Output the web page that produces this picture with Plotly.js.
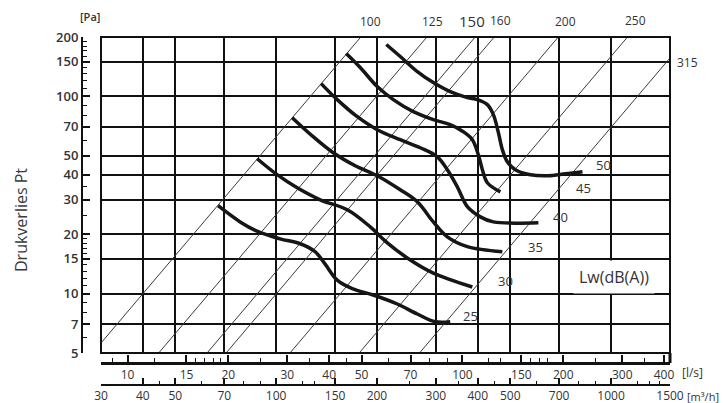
<!DOCTYPE html>
<html><head><meta charset="utf-8">
<script src="https://cdn.plot.ly/plotly-3.0.1.min.js"></script>
<style>html,body{margin:0;padding:0;background:#fff}#chart{width:723px;height:403px}</style>
</head><body><div id="chart"></div>
<script>
// ---- data ----
const ductDiameters   = [100, 125, 150, 160, 200, 250, 315];
const ductFlowAt5Pa   = [28.3, 44.6, 62.2, 70.9, 110, 177, 268];     // m3/h at 5 Pa
const ductFlowAt200Pa = [179, 282, 393, 448, 696, 1120, 1695];       // m3/h at 200 Pa
const ductPressures   = [5, 200];

const lwLevels = [25, 30, 35, 40, 45, 50];
const lw25Flow = [67.1, 78.1, 88.4, 102.8, 118, 130.8, 140.1, 152.2, 168.8, 195, 230, 264, 298.8, 331];
const lw25Pa   = [27.9, 23.1, 20.6, 18.95, 17.9, 16.3, 14.1, 11.7, 10.6, 9.84, 8.86, 7.88, 7.2, 7.2];
const lw30Flow = [87.8, 100.7, 115.6, 135.4, 163.1, 191, 214.8, 251.6, 294.7, 385.4];
const lw30Pa   = [48.3, 40.1, 34.4, 29.9, 26.6, 21.8, 18.1, 14.8, 12.7, 10.8];
const lw35Flow = [111.7, 129, 148.1, 172.3, 200.4, 234.8, 264, 294.7, 324.5, 372.4, 473.7];
const lw35Pa   = [78.0, 62.5, 51.8, 44.5, 39.6, 33.6, 29.2, 23.1, 19.4, 17.3, 16.3];
const lw40Flow = [136.3, 152.2, 174.7, 200.4, 234.8, 269.5, 302.9, 324.5, 347.6, 372.4, 407.2, 445.3, 606.9];
const lw40Pa   = [116.1, 96.3, 78.9, 67.8, 60.3, 54.9, 49.4, 42.5, 34.8, 27.6, 24.5, 23.1, 22.9];
const lw45Flow = [161.9, 178.3, 200.4, 223.8, 256.8, 294.7, 331, 362.2, 385.4, 401.6, 412.9, 427.3, 467.3];
const lw45Pa   = [164.9, 140, 112.1, 96.3, 83.7, 76.2, 71.9, 66.2, 60.3, 50.6, 42.5, 36.5, 32.8];
const lw50Flow = [213.3, 234.8, 264, 294.7, 331, 372.4, 398.8, 427.3, 445.3, 461, 473.7, 490.2, 518, 574.3, 645.7, 730.9, 821.7];
const lw50Pa   = [183.2, 159.2, 133.6, 117.5, 105.7, 98.6, 96.3, 90.8, 80.8, 65.5, 53.7, 46.6, 42.5, 40.1, 39.6, 40.5, 41.5];

const paTicks      = [5, 7, 10, 15, 20, 30, 40, 50, 70, 100, 150, 200];
const paMinorTicks = [6, 8, 9, 11, 12, 13, 14, 16, 17, 18, 19, 25, 35, 60, 80, 90, 110, 120, 130, 140, 160, 170, 180, 190];
const m3hTicks      = [30, 40, 50, 70, 100, 150, 200, 300, 400, 500, 700, 1000, 1500];
const m3hMinorTicks = [45, 60, 80, 90, 120, 130, 250, 350, 450, 600, 800, 900, 1200, 1300, 1400];
const lsTicks      = [10, 15, 20, 30, 40, 50, 70, 100, 150, 200, 300, 400];
const lsMinorTicks = [9, 12, 16, 17, 18, 19, 25, 35, 45, 60, 80, 90, 120, 130, 160, 170, 180, 250, 350];

// ---- layout geometry ----
const W = 723, H = 403, M = {l: 40, r: 53, t: 37, b: 10};
const PW = W - M.l - M.r, PH = H - M.t - M.b;
const px = x => (x - M.l) / PW;
const py = y => (H - M.b - y) / PH;
const xDom = [px(101), 1];
const yDom = [py(353), 1];
const FONT = '"Open Sans", "Noto Sans", sans-serif';
const TXT = '#333';

const traces = [];
ductDiameters.forEach((d, i) => {
  traces.push({x: [ductFlowAt5Pa[i], ductFlowAt200Pa[i]], y: ductPressures, mode: 'lines',
    line: {color: '#3a3a3a', width: 1}, hoverinfo: 'skip', name: 'Ø' + d});
});
const curves = [[lw25Flow, lw25Pa], [lw30Flow, lw30Pa], [lw35Flow, lw35Pa], [lw40Flow, lw40Pa], [lw45Flow, lw45Pa], [lw50Flow, lw50Pa]];
curves.forEach((c, i) => {
  traces.push({x: c[0], y: c[1], mode: 'lines', name: 'Lw ' + lwLevels[i],
    line: {color: '#161616', width: 3.5, shape: 'spline', smoothing: 1}, hoverinfo: 'skip'});
});
// carrier trace for the l/s axis
traces.push({x: [lsTicks[0], lsTicks[lsTicks.length - 1]], y: [5, 5], xaxis: 'x2', yaxis: 'y',
  mode: 'lines', line: {width: 0, color: 'rgba(0,0,0,0)'}, hoverinfo: 'skip'});

const ann = (text, x, y, size, extra) => Object.assign({text, x: px(x), y: py(y), xref: 'paper', yref: 'paper',
  showarrow: false, xanchor: 'center', yanchor: 'middle', font: {family: FONT, size: size, color: TXT}}, extra || {});

const annotations = [
  ann('[Pa]', 90, 16, 11, {font: {family: FONT, size: 11, color: TXT, weight: 600}}),
  ann('Drukverlies Pt', 21, 220, 16, {textangle: -90, font: {family: FONT, size: 16, color: '#3a3a3a'}}),
  ann('100', 370, 22, 12), ann('125', 432, 22, 12), ann('150', 472, 21, 15), ann('160', 501, 20, 12),
  ann('200', 565, 22, 12), ann('250', 635, 20, 12), ann('315', 688, 62, 12),
  ann('25', 470, 316, 13), ann('30', 505, 281, 13), ann('35', 535, 247, 13),
  ann('40', 560, 217, 13), ann('45', 583, 188, 13), ann('50', 603, 165, 13),
  ann('Lw(dB(A))', 614, 277, 16, {bgcolor: '#fff', borderpad: 5}),
  ann('[l/s]', 692, 372, 12),
  ann('[m³/h]', 721, 396, 11, {xanchor: 'right'})
];

const layout = {
  width: W, height: H, margin: M, paper_bgcolor: '#fff', plot_bgcolor: '#fff',
  showlegend: false, hovermode: false, font: {family: FONT, color: TXT},
  xaxis: {type: 'log', range: [Math.log10(30), Math.log10(1500)], domain: xDom, anchor: 'free', position: py(385),
    showline: true, linecolor: '#111', linewidth: 2, ticks: 'inside', ticklen: 6, tickwidth: 2, tickcolor: '#111',
    tickvals: m3hTicks, ticktext: m3hTicks.map(String), tickfont: {family: FONT, size: 12, color: TXT},
    showgrid: true, gridcolor: '#111', gridwidth: 2, zeroline: false,
    minor: {tickmode: 'array', tickvals: m3hMinorTicks, ticks: 'inside', ticklen: 3, tickwidth: 1, tickcolor: '#111', showgrid: false}},
  xaxis2: {type: 'log', range: [Math.log10(30 / 3.6), Math.log10(1500 / 3.6)], domain: xDom, overlaying: 'x', anchor: 'free',
    position: py(363), side: 'bottom', showline: true, linecolor: '#111', linewidth: 2.5,
    ticks: 'inside', ticklen: 7, tickwidth: 2, tickcolor: '#111',
    tickvals: lsTicks, ticktext: lsTicks.map(String), tickfont: {family: FONT, size: 12, color: TXT},
    showgrid: false, zeroline: false,
    minor: {tickmode: 'array', tickvals: lsMinorTicks, ticks: 'inside', ticklen: 4, tickwidth: 1, tickcolor: '#111', showgrid: false}},
  yaxis: {type: 'log', range: [Math.log10(5), Math.log10(200)], domain: yDom, anchor: 'free', position: px(82),
    side: 'left', showline: true, linecolor: '#111', linewidth: 2, ticks: 'inside', ticklen: 7, tickwidth: 2, tickcolor: '#111',
    tickvals: paTicks, ticktext: paTicks.map(String), tickfont: {family: FONT, size: 13, color: TXT, weight: 600},
    showgrid: true, gridcolor: '#111', gridwidth: 2, zeroline: false,
    minor: {tickmode: 'array', tickvals: paMinorTicks, ticks: 'inside', ticklen: 4, tickwidth: 1, tickcolor: '#111', showgrid: false}},
  shapes: [
    {type: 'rect', xref: 'paper', yref: 'paper', x0: xDom[0], x1: 1, y0: yDom[0], y1: 1, line: {color: '#111', width: 2}, layer: 'above'},
    {type: 'line', xref: 'paper', yref: 'paper', x0: 1, x1: 1, y0: py(363), y1: yDom[0], line: {color: '#111', width: 3}, layer: 'above'}
  ],
  annotations: annotations
};

Plotly.newPlot('chart', traces, layout, {displayModeBar: false, staticPlot: true});
</script></body></html>
